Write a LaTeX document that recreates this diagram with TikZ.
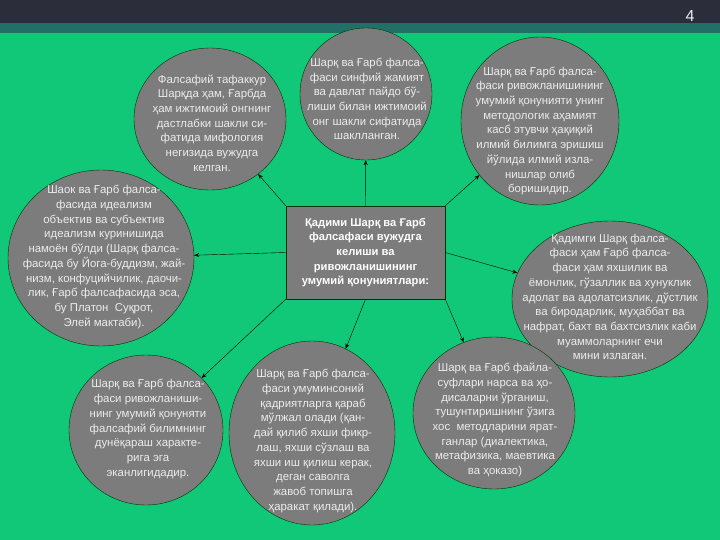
\documentclass[tikz,border=0pt]{standalone}
\usepackage{fontspec}
\setmainfont{Liberation Sans}
\usetikzlibrary{shapes.geometric,arrows.meta}

\definecolor{slidegreen}{RGB}{16,200,120}
\definecolor{slidetop}{RGB}{44,45,58}
\definecolor{slidestripe}{RGB}{32,112,104}
\definecolor{bubblegray}{RGB}{124,124,124}
\definecolor{bubbletext}{RGB}{236,236,236}

\begin{document}
\begin{tikzpicture}[x=1pt,y=-1pt,
    bubble/.style={ellipse,draw=black!80!green,thin,fill=bubblegray,inner sep=0},
    bubbletxt/.style={align=center,text=bubbletext,font=\fontsize{11.4}{14.7}\selectfont,inner sep=0},
    hubbox/.style={rectangle,draw=black!80!green,thin,fill=bubblegray,minimum width=159,minimum height=93,
      align=center,text=white,font=\bfseries\fontsize{11.2}{14.6}\selectfont,inner sep=0},
    link/.style={draw=black,thin,-{Stealth[length=5pt,width=4pt]}}]

    % slide background
    \fill [slidegreen] (0,0) rectangle (720,540);
    \fill [slidetop] (0,0) rectangle (720,23);
    \fill [slidestripe] (0,23) rectangle (720,33);
    \node [text=bubbletext,font=\fontsize{16}{16}\selectfont] (pagenum) at (690,16) {4};

    % centre box
    \node [hubbox] (hub) at (365.5,252.5) {Қадими Шарқ ва Ғарб\\фалсафаси вужудга\\келиши ва\\ривожланишининг\\умумий қонуниятлари:};

    % bubbles
    \node [bubble,minimum width=152,minimum height=142] (c1) at (210,119) {};
    \node [bubble,minimum width=132,minimum height=132] (c2) at (366,94) {};
    \node [bubble,minimum width=158,minimum height=168] (c3) at (540,121) {};
    \node [bubble,minimum width=186,minimum height=176] (c4) at (101,258) {};
    \node [bubble,minimum width=196,minimum height=156] (c6) at (610,299) {};
    \node [bubble,minimum width=154,minimum height=150] (c7) at (146,430) {};
    \node [bubble,minimum width=166,minimum height=184] (c8) at (312,433) {};
    \node [bubble,minimum width=162,minimum height=152] (c9) at (494,413) {};

    \node [bubbletxt] (t1) at (212,123) {Фалсафий тафаккур\\Шарқда ҳам, Ғарбда\\ҳам ижтимоий онгнинг\\дастлабки шакли си-\\фатида мифология\\негизида вужудга\\келган.};
    \node [bubbletxt] (t2) at (367,99) {Шарқ ва Ғарб фалса-\\фаси синфий жамият\\ва давлат пайдо бў-\\лиши билан ижтимоий\\онг шакли сифатида\\шаклланган.};
    \node [bubbletxt] (t3) at (540,131) {Шарқ ва Ғарб фалса-\\фаси ривожланишининг\\умумий қонунияти унинг\\методологик аҳамият\\касб этувчи ҳақиқий\\илмий билимга эришиш\\йўлида илмий изла-\\нишлар олиб\\боришидир.};
    \node [bubbletxt] (t4) at (104,257) {Шаок ва Ғарб фалса-\\фасида идеализм\\объектив ва субъектив\\идеализм куринишида\\намоён бўлди (Шарқ фалса-\\фасида бу Йога-буддизм, жай-\\низм, конфуцийчилик, даочи-\\лик, Ғарб фалсафасида эса,\\бу Платон\ \ Суқрот,\\Элей мактаби).};
    \node [bubbletxt] (t6) at (610,297) {Қадимги Шарқ фалса-\\фаси ҳам Ғарб фалса-\\фаси ҳам яхшилик ва\\ёмонлик, гўзаллик ва хунуклик\\адолат ва адолатсизлик, дўстлик\\ва биродарлик, муҳаббат ва\\нафрат, бахт ва бахтсизлик каби\\муаммоларнинг ечи\\мини излаган.};
    \node [bubbletxt] (t7) at (148,429) {Шарқ ва Ғарб фалса-\\фаси ривожланиши-\\нинг умумий қонуняти\\фалсафий билимнинг\\дунёқараш характе-\\рига эга\\эканлигидадир.};
    \node [bubbletxt] (t8) at (313,441) {Шарқ ва Ғарб фалса-\\фаси умуминсоний\\қадриятларга қараб\\мўлжал олади (қан-\\дай қилиб яхши фикр-\\лаш, яхши сўзлаш ва\\яхши иш қилиш керак,\\деган саволга\\жавоб топишга\\ҳаракат қилади).};
    \node [bubbletxt] (t9) at (495,420) {Шарқ ва Ғарб файла-\\суфлари нарса ва ҳо-\\дисаларни ўрганиш,\\тушунтиришнинг ўзига\\хос\ \ методларини ярат-\\ганлар (диалектика,\\метафизика, маевтика\\ва ҳоказо)};

    % arrows from the centre box
    \foreach \c/\a in {c1/hub.north west,c2/hub.north,c3/hub.north east,c4/hub.west,c6/hub.east,c7/hub.south west,c8/hub.south,c9/hub.south east}
      \draw [link] (\a) -- (\c);

\end{tikzpicture}
\end{document}
